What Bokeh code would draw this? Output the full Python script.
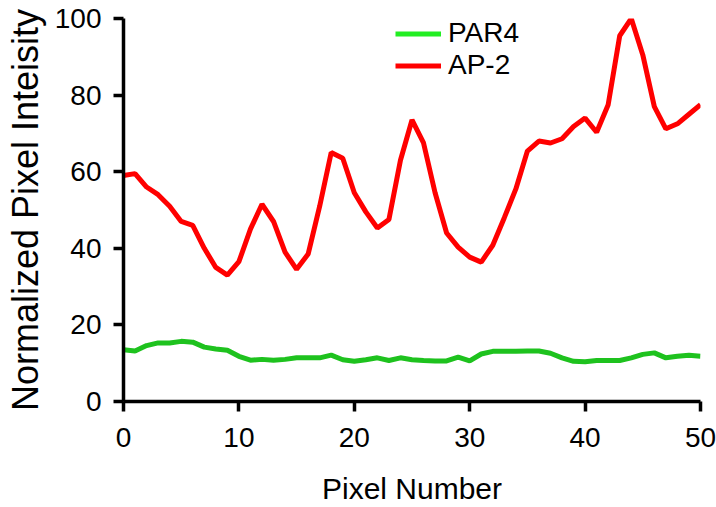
from bokeh.plotting import figure
from bokeh.models import Range1d, Legend, LegendItem, FixedTicker
from bokeh.embed import file_html
from bokeh.resources import INLINE

pixel = list(range(0, 51))
par4 = [13.5, 13.2, 14.6, 15.3, 15.3, 15.7, 15.5, 14.2, 13.7, 13.4,
        11.8, 10.8, 11.0, 10.8, 11.0, 11.4, 11.4, 11.4, 12.1, 10.9,
        10.5, 10.9, 11.4, 10.7, 11.4, 10.9, 10.7, 10.6, 10.6, 11.6,
        10.6, 12.4, 13.1, 13.1, 13.1, 13.2, 13.2, 12.6, 11.4, 10.5,
        10.4, 10.7, 10.7, 10.7, 11.4, 12.3, 12.7, 11.4, 11.8, 12.1,
        11.8]
ap2 = [59.0, 59.5, 56.0, 54.0, 51.0, 47.0, 46.0, 40.0, 35.0, 33.0,
       36.5, 45.0, 51.5, 47.0, 39.0, 34.5, 38.5, 51.0, 65.0, 63.5,
       54.5, 49.5, 45.3, 47.5, 63.0, 73.5, 67.5, 54.5, 44.0, 40.3,
       37.7, 36.4, 40.8, 48.0, 55.5, 65.4, 68.0, 67.5, 68.6, 71.8,
       74.0, 70.3, 77.5, 95.5, 100.0, 90.5, 77.0, 71.2, 72.5, 75.0,
       77.5]
x_ticks = [0, 10, 20, 30, 40, 50]
y_ticks = [0, 20, 40, 60, 80, 100]
series_names = ["PAR4", "AP-2"]
x_title = "Pixel Number"
y_title = "Normalized Pixel Inteisity"

FONT = "Liberation Sans"

p = figure(width=716, height=507, output_backend="svg", toolbar_location=None,
           x_range=Range1d(0, 50), y_range=Range1d(0, 100),
           min_border_left=123, min_border_right=16, min_border_top=18,
           min_border_bottom=105)
p.outline_line_color = None
p.grid.visible = False
p.background_fill_color = "white"
p.border_fill_color = "white"

g = p.line(pixel, par4, line_color="#1EC21E", line_width=5)
r = p.line(pixel, ap2, line_color="#FF0000", line_width=5)
# legend proxies (single point, draws nothing) with the legend colours
gl = p.line(pixel[:1], par4[:1], line_color="#22EE22", line_width=5)
rl = p.line(pixel[:1], ap2[:1], line_color="#FF0000", line_width=5)

for ax in (p.xaxis[0], p.yaxis[0]):
    ax.axis_line_width = 3.5
    ax.axis_line_color = "black"
    ax.major_tick_line_width = 3.5
    ax.major_tick_line_color = "black"
    ax.major_tick_out = 10
    ax.major_tick_in = 0
    ax.minor_tick_line_color = None
    ax.major_label_text_font = FONT
    ax.major_label_text_font_size = "28px"
    ax.major_label_text_color = "black"
    ax.axis_label_text_font = FONT
    ax.axis_label_text_font_style = "normal"
    ax.axis_label_text_color = "black"

p.xaxis.ticker = FixedTicker(ticks=x_ticks)
p.yaxis.ticker = FixedTicker(ticks=y_ticks)
p.xaxis.axis_label = x_title
p.yaxis.axis_label = y_title
p.xaxis.axis_label_text_font_size = "30px"
p.yaxis.axis_label_text_font_size = "36px"
p.xaxis.major_label_standoff = 16
p.yaxis.major_label_standoff = 12
p.xaxis.axis_label_standoff = 22
p.yaxis.axis_label_standoff = 6

legend = Legend(items=[LegendItem(label=series_names[0], renderers=[gl]),
                       LegendItem(label=series_names[1], renderers=[rl])],
                location=(272, 320))
legend.border_line_color = None
legend.background_fill_alpha = 0
legend.padding = 0
legend.margin = 0
legend.spacing = 0
legend.glyph_width = 46
legend.glyph_height = 27
legend.label_height = 27
legend.label_standoff = 7
legend.label_text_font = FONT
legend.label_text_font_size = "28px"
legend.label_text_color = "black"
p.add_layout(legend, "center")

open("out.html", "w").write(file_html(p, INLINE))
